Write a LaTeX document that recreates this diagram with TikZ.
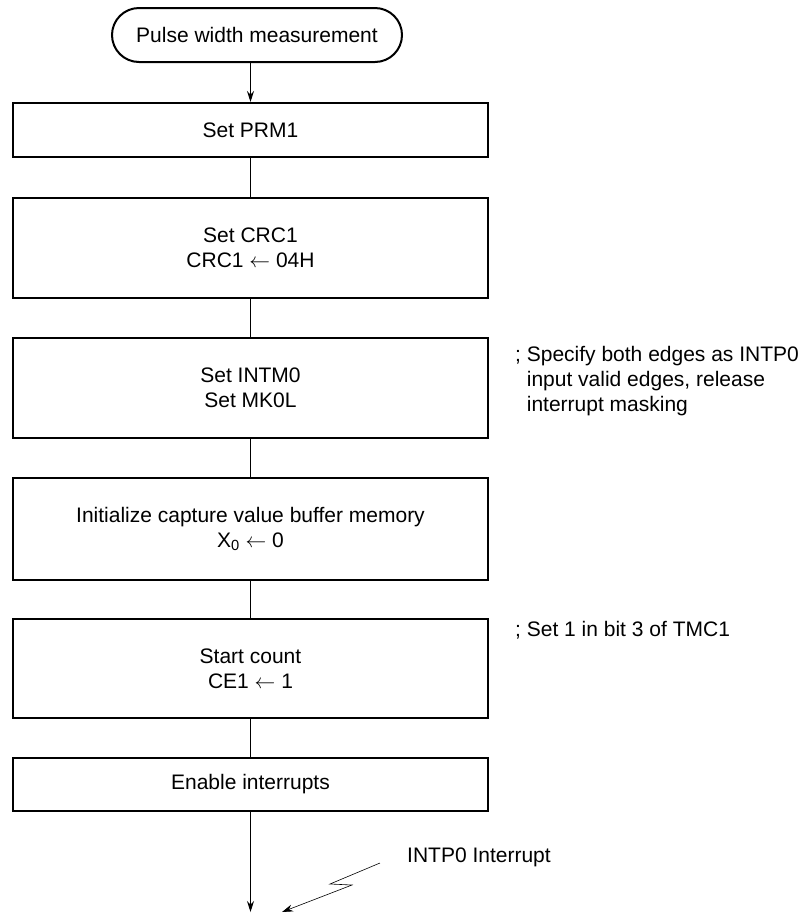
\documentclass[tikz,border=0pt]{standalone}
\usepackage{fontspec}
\setmainfont{Liberation Sans}
\usetikzlibrary{arrows.meta,shapes.misc}
\begin{document}
\begin{tikzpicture}[x=1pt,y=-1pt,
  every node/.style={font=\fontsize{21}{25}\selectfont},
  procbox/.style={draw,line width=2pt,minimum width=475pt,align=center,inner sep=0pt},
  termbox/.style={draw,line width=2pt,rounded rectangle,minimum width=290pt,minimum height=54pt,inner sep=0pt},
  conn/.style={line width=0.8pt},
  arr/.style={line width=0.8pt,-{Stealth[length=11pt,width=7pt]}},
  note/.style={align=left,inner sep=0pt,anchor=north west}]
\useasboundingbox (0,0) rectangle (800,922);
\node[termbox] (term) at (257,35) {Pulse width measurement};
\node[procbox,minimum height=54pt] (prm) at (250.5,130) {Set PRM1};
\node[procbox,minimum height=100pt] (crc) at (250.5,247.5) {Set CRC1\\CRC1 $\leftarrow$ 04H};
\node[procbox,minimum height=100pt] (intm) at (250.5,388) {Set INTM0\\Set MK0L};
\node[procbox,minimum height=102pt] (init) at (250.5,529) {Initialize capture value buffer memory\\X\textsubscript{0} $\leftarrow$ 0};
\node[procbox,minimum height=99pt] (start) at (250.5,668.5) {Start count\\CE1 $\leftarrow$ 1};
\node[procbox,minimum height=53pt] (enable) at (250.5,784.5) {Enable interrupts};
\coordinate (end) at (250.5,912);
\draw[arr] (term.south -| prm.north) -- (prm.north);
\draw[conn] (prm) -- (crc);
\draw[conn] (crc) -- (intm);
\draw[conn] (intm) -- (init);
\draw[conn] (init) -- (start);
\draw[conn] (start) -- (enable);
\draw[arr] (enable) -- (end);
\node[note] (n1) at (515,346) {; Specify both edges as INTP0\\\hphantom{; }input valid edges, release\\\hphantom{; }interrupt masking};
\node[note] (n2) at (515,621) {; Set 1 in bit 3 of TMC1};
\node[anchor=west,inner sep=0pt] (intp) at (407,857) {INTP0 Interrupt};
\coordinate (z0) at (380,863);
\coordinate (z1) at (330,884);
\coordinate (z2) at (352,885);
\coordinate (z3) at (282,912);
\draw[arr,line width=0.6pt] (z0) -- (z1) -- (z2) -- (z3);
\end{tikzpicture}
\end{document}
